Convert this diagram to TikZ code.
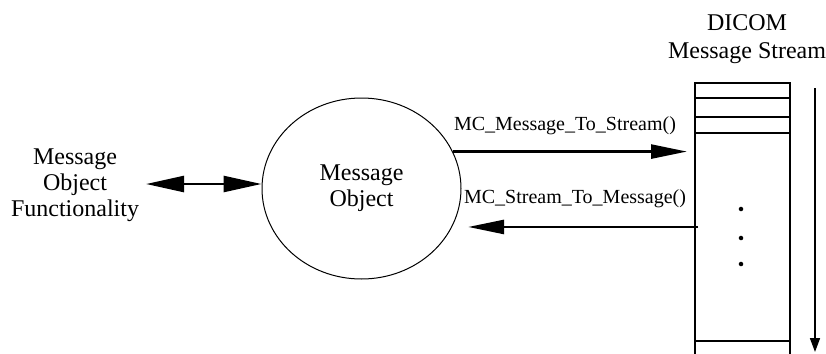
\documentclass[tikz,border=0pt]{standalone}
\usepackage{fontspec}
\setmainfont{Liberation Serif}
\usetikzlibrary{arrows.meta,positioning,shapes.geometric}
\tikzset{font=\rmfamily\fontsize{12}{13}\selectfont}
\tikzstyle{obj}=[ellipse,draw,line width=0.5pt,minimum width=99.5pt,minimum height=90.5pt,align=center,inner sep=0pt]
\tikzstyle{flow}=[line width=1.3pt,-{Triangle[length=18pt,width=7pt]}]
\tikzstyle{dflow}=[line width=1.3pt,{Triangle[length=19pt,width=8pt]}-{Triangle[length=19pt,width=8pt]}]
\tikzstyle{dotn}=[circle,fill=black,inner sep=0.8pt]

\begin{document}
\begin{tikzpicture}[x=0.5pt,y=-0.5pt]
\useasboundingbox (0,0) rectangle (826,354);
\node[align=center] (func) at (75,185) {Message\\Object\\Functionality};
\node[obj] (msg) at (361.5,188.5) {Message\\Object};
\node (title) at (747,23) {DICOM};
\node (title2) at (747,53) {Message Stream};
\draw[line width=1pt] (695,354) -- (695,83) -- (790,83) -- (790,354);
\foreach \y in {98,117,133,341}
  \draw[line width=1pt] (695,\y) -- (790,\y);
\coordinate (sin) at (695,151);
\coordinate (sout) at (698,227);
\foreach \y [count=\i] in {209,238,264}
  \node[dotn] (dot\i) at (741,\y) {};
\coordinate (ttop) at (815,88);
\coordinate (tbot) at (815,352);
\draw[line width=0.8pt,-{Triangle[length=7pt,width=5pt]}] (ttop) -- (tbot);
\path[flow,font=\rmfamily\fontsize{10}{12}\selectfont]
(msg.22) edge[shorten >=4pt] node[above=4.6pt,xshift=-4.5pt]{MC\_Message\_To\_Stream()} (msg.22 -| sin)
(sout |- msg.-23) edge[shorten >=8pt] node[above=5.5pt]{MC\_Stream\_To\_Message()} (msg.-23);
\draw[dflow] (func.east |- 0,184) -- (msg.west |- 0,184);
\end{tikzpicture}
\end{document}
